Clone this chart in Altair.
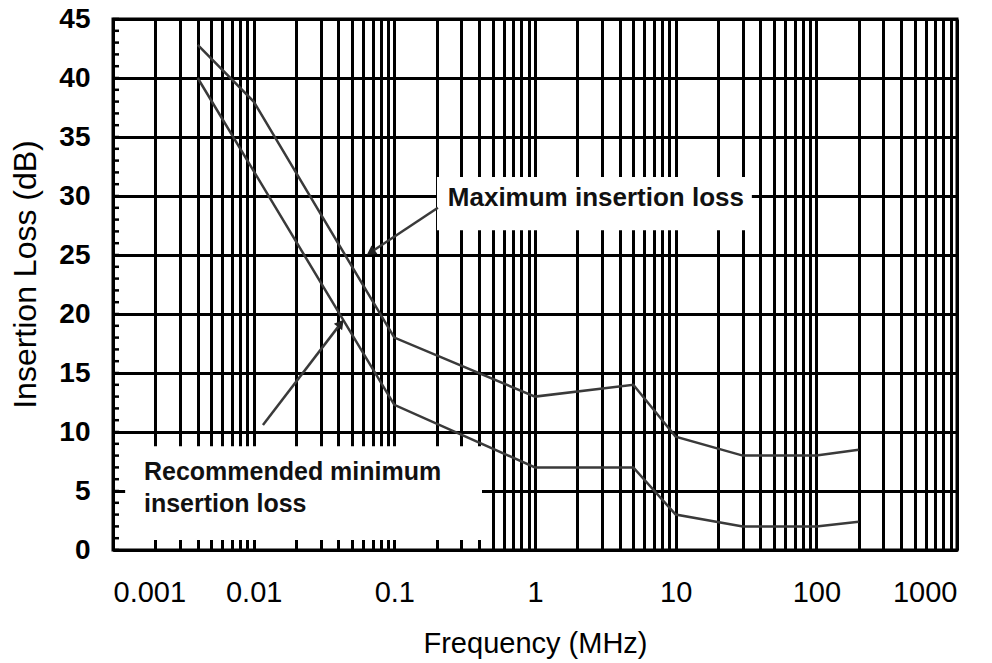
import altair as alt
import pandas as pd

# ---- data ----
freq_max = [0.004, 0.01, 0.1, 1, 5, 10, 30, 100, 200]
loss_max = [42.8, 38.0, 18.0, 13.0, 14.0, 9.6, 8.0, 8.0, 8.5]

freq_min = [0.004, 0.1, 1, 5, 10, 30, 100, 200]
loss_min = [40.0, 12.3, 7.0, 7.0, 3.0, 2.0, 2.0, 2.4]

decade_labels = ["0.001", "0.01", "0.1", "1", "10", "100", "1000"]
y_labels = [0, 5, 10, 15, 20, 25, 30, 35, 40, 45]
y_minor = list(range(0, 46))

# annotation boxes (data coordinates)
box_x1 = [0.201, 0.00122]
box_x2 = [34.8, 0.42]
box_y1 = [27.1, 0.85]
box_y2 = [31.6, 8.8]

# annotation texts
max_text = ["Maximum insertion loss"]
max_tx = [0.24]
max_ty = [29.8]
rec_text = ["Recommended minimum", "insertion loss"]
rec_tx = [0.00166, 0.00166]
rec_ty = [6.6, 3.9]

# arrows: tail -> tip
arrow_x1 = [0.204, 0.01164]
arrow_y1 = [29.0, 10.6]
arrow_x2 = [0.0693, 0.041]
arrow_y2 = [25.3, 19.1]

# grid positions of the log axis (1..9 in every decade)
x_grid = [round(m * 10.0 ** e, 6) for e in range(-3, 3) for m in range(1, 10)] + [1000.0]

FONT = "Liberation Sans"
LINE = "#3a3a3a"

xs = alt.Scale(type="log", domain=[0.001, 1000], nice=False)
ys = alt.Scale(domain=[0, 45], nice=False, zero=False)

X_AX = alt.Axis(
    values=x_grid, format="~g",
    labelExpr="indexof(" + str(decade_labels) + ", datum.label) >= 0 ? datum.label : ''",
    labelOverlap=False, grid=True, gridColor="black", gridWidth=3,
    ticks=False, tickSize=0, domainColor="black", domainWidth=3,
    labelFont=FONT, labelFontSize=29, labelColor="black", labelPadding=28,
    title="Frequency (MHz)", titleFont=FONT, titleFontSize=29, titleFontWeight="normal",
    titleColor="black", titleY=102, titleBaseline="alphabetic",
)
Y_AX = alt.Axis(
    values=y_labels, grid=True, gridColor="black", gridWidth=3,
    ticks=False, tickSize=0, domainColor="black", domainWidth=3,
    labelFont=FONT, labelFontSize=28, labelFontWeight="bold", labelColor="black",
    labelPadding=23,
    title="Insertion Loss (dB)", titleFont=FONT, titleFontSize=32, titleFontWeight="normal",
    titleColor="black", titleAngle=270, titleX=-78, titleY=255,
    titleAlign="center", titleBaseline="alphabetic",
)

curves = pd.concat([
    pd.DataFrame({"f": freq_max, "l": loss_max, "s": "max"}),
    pd.DataFrame({"f": freq_min, "l": loss_min, "s": "min"}),
])
boxes = pd.DataFrame({"x1": box_x1, "x2": box_x2, "y1": box_y1, "y2": box_y2})
ticks_df = pd.DataFrame({"v": y_minor})
max_df = pd.DataFrame({"t": max_text, "x": max_tx, "y": max_ty})
rec_df = pd.DataFrame({"t": rec_text, "x": rec_tx, "y": rec_ty})
arrows = pd.DataFrame({"x1": arrow_x1, "y1": arrow_y1, "x2": arrow_x2, "y2": arrow_y2})

box_layer = alt.Chart(boxes).mark_rect(fill="white").encode(
    x=alt.X("x1:Q", scale=xs, axis=X_AX), x2="x2:Q",
    y=alt.Y("y1:Q", scale=ys, axis=Y_AX), y2="y2:Q",
)

tick_layer = alt.Chart(ticks_df).mark_rule(color="black", strokeWidth=2.5).encode(
    y=alt.Y("v:Q", scale=ys, axis=Y_AX),
    x=alt.value(0), x2=alt.value(6),
)

line_layer = alt.Chart(curves).mark_line(color=LINE, strokeWidth=2.5).encode(
    x=alt.X("f:Q", scale=xs, axis=X_AX),
    y=alt.Y("l:Q", scale=ys, axis=Y_AX),
    detail="s:N",
)

arrow_layer = alt.Chart(arrows).mark_rule(color=LINE, strokeWidth=2.5).encode(
    x=alt.X("x1:Q", scale=xs, axis=X_AX), x2="x2:Q",
    y=alt.Y("y1:Q", scale=ys, axis=Y_AX), y2="y2:Q",
)

head1 = alt.Chart(arrows.iloc[[0]]).mark_point(
    shape="triangle", filled=True, size=110, color="#222", opacity=1, angle=236
).encode(x=alt.X("x2:Q", scale=xs, axis=X_AX), y=alt.Y("y2:Q", scale=ys, axis=Y_AX))

head2 = alt.Chart(arrows.iloc[[1]]).mark_point(
    shape="triangle", filled=True, size=110, color="#222", opacity=1, angle=38
).encode(x=alt.X("x2:Q", scale=xs, axis=X_AX), y=alt.Y("y2:Q", scale=ys, axis=Y_AX))

max_label = alt.Chart(max_df).mark_text(
    align="left", baseline="middle", font=FONT, fontSize=26, fontWeight="bold", color="#111"
).encode(x=alt.X("x:Q", scale=xs, axis=X_AX), y=alt.Y("y:Q", scale=ys, axis=Y_AX), text="t:N")

rec_label = alt.Chart(rec_df).mark_text(
    align="left", baseline="middle", font=FONT, fontSize=25, fontWeight="bold", color="#111"
).encode(x=alt.X("x:Q", scale=xs, axis=X_AX), y=alt.Y("y:Q", scale=ys, axis=Y_AX), text="t:N")

chart = alt.layer(
    box_layer, tick_layer, line_layer, arrow_layer, head1, head2, max_label, rec_label
).properties(
    width=844, height=531,
    autosize=alt.AutoSizeParams(type="none"),
    padding={"left": 113, "top": 19, "right": 35, "bottom": 113},
    background="white",
).configure_view(stroke="black", strokeWidth=3)

chart.save("out.html", embed_options={"renderer": "svg", "actions": False})
